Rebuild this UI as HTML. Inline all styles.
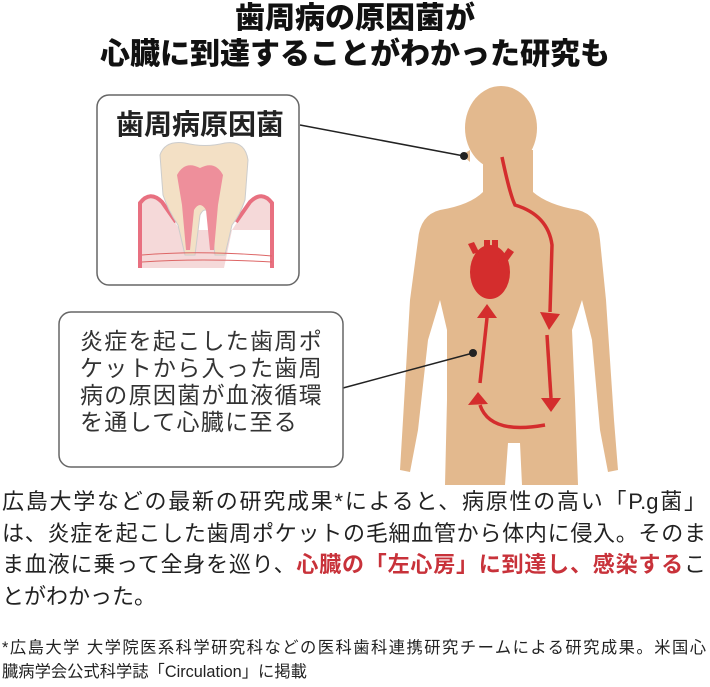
<!DOCTYPE html>
<html><head><meta charset="utf-8"><style>
body{margin:0;width:710px;height:687px;background:#fff;position:relative;overflow:hidden;font-family:"Liberation Sans","Noto Sans CJK JP",sans-serif;color:#222}
.t{position:absolute;white-space:nowrap}
.j{position:absolute;left:2px;width:704px;text-align:justify;text-align-last:justify;white-space:nowrap;color:#222}
.b{font-size:22px;height:30px;line-height:30px}
.f{font-size:16.3px;height:24px;line-height:24px}
</style></head><body>
<div class="t" style="left:0;width:710px;top:1px;text-align:center;font-size:30px;font-weight:900;line-height:36px;color:#111">歯周病の原因菌が<br>心臓に到達することがわかった研究も</div>
<svg width="710" height="687" style="position:absolute;left:0;top:0">
<g fill="#e3b98e">
<ellipse cx="501" cy="128" rx="36" ry="42"/>
<rect x="483" y="150" width="50" height="50"/>
<path d="M470 150 L462 155 L470 162 Z"/>
<path d="M483 192 Q470 205 440 210 Q420 215 418 240 L410 300 L403 420 L400 470 L410 472 L418 430 L428 340 L440 300 L447 330 L447 400 L445 485 L505 485 L508 443 L520 443 L522 485 L578 485 L575 400 L572 330 L582 300 L592 340 L600 430 L608 472 L618 470 L614 420 L606 300 L600 240 Q598 215 578 210 Q548 205 533 192 Z"/>
</g>
<g fill="#d42d2d">
<ellipse cx="490" cy="272" rx="20" ry="27"/>
<rect x="484" y="240" width="6" height="18"/><rect x="492" y="240" width="6" height="18"/>
<path d="M498 262 L508 248 L514 252 L504 266 Z"/>
<path d="M473 254 L468 244 L474 242 L479 252 Z"/>
</g>
<g stroke="#d42d2d" stroke-width="3.5" fill="none">
<path d="M502 157 Q510 195 515 205 Q548 215 552 245 L550 312"/>
<path d="M547 335 L551 398"/>
<path d="M545 425 Q490 435 480 405"/>
<path d="M480 383 L487 318"/>
</g>
<g fill="#d42d2d">
<path d="M540 312 L560 314 L549 330 Z"/>
<path d="M541 398 L561 398 L551 412 Z"/>
<path d="M468 405 L488 404 L478 392 Z"/>
<path d="M477 318 L497 318 L487 304 Z"/>
</g>
<g stroke="#222" stroke-width="1.5"><line x1="300" y1="125" x2="464" y2="156"/><line x1="343" y1="388" x2="473" y2="353"/></g>
<circle cx="464" cy="156" r="4" fill="#222"/><circle cx="473" cy="353" r="4" fill="#222"/>
<rect x="97" y="95" width="202" height="190" rx="12" fill="#fff" stroke="#666" stroke-width="1.5"/>
<rect x="59" y="312" width="284" height="155" rx="12" fill="#fff" stroke="#666" stroke-width="1.5"/>
<path d="M140 268 L140 205 Q150 192 162 202 L180 230 L188 268 Z M272 268 L272 205 Q262 192 250 202 L232 230 L224 268 Z M140 230 L272 230 L272 268 L140 268 Z" fill="#f5d9d9"/>
<path d="M140 268 L140 203 Q150 190 162 202 L176 222" fill="none" stroke="#e87080" stroke-width="4"/>
<path d="M272 268 L272 203 Q262 190 250 202 L236 222" fill="none" stroke="#e87080" stroke-width="4"/>
<path d="M160 155 Q165 140 185 143 Q205 148 225 143 Q245 140 248 160 L245 200 Q240 215 232 225 L225 255 L215 255 L210 215 Q205 205 200 215 L195 255 L185 255 L178 225 Q168 210 163 195 Z" fill="#f3e0c5" stroke="#ccc" stroke-width="1"/>
<path d="M177 175 Q185 160 200 168 Q215 160 223 175 L218 205 L214 250 L210 250 L206 210 Q200 200 194 210 L190 250 L186 250 L182 205 Z" fill="#ee8f9b"/>
<g stroke="#d66" stroke-width="1" fill="none"><path d="M142 255 Q200 250 272 256"/><path d="M142 262 Q200 258 272 262"/></g>
</svg>
<div class="t" style="left:116px;top:103px;font-size:28px;font-weight:bold">歯周病原因菌</div>
<div class="t" style="left:80px;top:328px;font-size:23px;line-height:27px;letter-spacing:1.3px;color:#333">炎症を起こした歯周ポ<br>ケットから入った歯周<br>病の原因菌が血液循環<br>を通して心臓に至る</div>
<div class="j b" style="top:487px">広島大学などの最新の研究成果*によると、病原性の高い「P.g菌」</div>
<div class="j b" style="top:519px">は、炎症を起こした歯周ポケットの毛細血管から体内に侵入。そのま</div>
<div class="j b" style="top:550px">ま血液に乗って全身を巡り、<span style="color:#c8323a;font-weight:bold">心臓の「左心房」に到達し、感染する</span>こ</div>
<div class="t b" style="left:2px;top:582px">とがわかった。</div>
<div class="j f" style="top:636px">*広島大学 大学院医系科学研究科などの医科歯科連携研究チームによる研究成果。米国心</div>
<div class="t f" style="left:2px;top:660px">臓病学会公式科学誌「Circulation」に掲載</div>
</body></html>
